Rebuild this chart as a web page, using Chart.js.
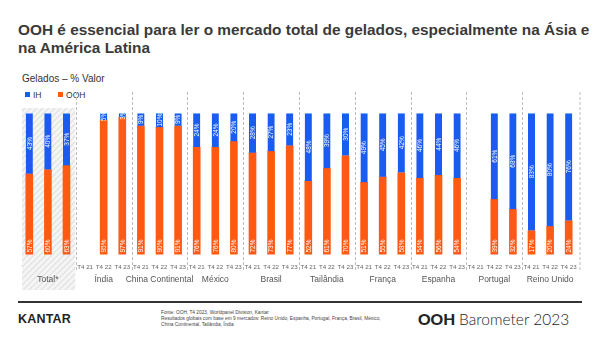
<!DOCTYPE html>
<html>
<head>
<meta charset="utf-8">
<script src="https://cdn.jsdelivr.net/npm/chart.js@4.4.0/dist/chart.umd.min.js"></script>
<style>
  html,body{margin:0;padding:0;background:#fff;}
  body{width:600px;height:338px;position:relative;overflow:hidden;font-family:"Liberation Sans",Arial,sans-serif;}
  #title{position:absolute;left:18px;top:21px;width:575px;font-weight:bold;font-size:15.4px;line-height:18px;color:#3a3a3a;}
  #sub{position:absolute;left:22px;top:73px;font-size:10px;color:#333;}
  #legend{position:absolute;left:25px;top:90px;font-size:8.5px;color:#333;}
  #legend span.b{display:inline-block;width:5px;height:5px;margin-right:3px;vertical-align:1px;}
  #chartwrap{position:absolute;left:0;top:85px;width:600px;height:210px;}
  #rule{position:absolute;left:18px;top:301px;width:564px;height:2px;background:#333;}
  #kantar{position:absolute;left:18px;top:312px;font-size:12.5px;font-weight:bold;color:#222;letter-spacing:0.2px;}
  #note{position:absolute;left:161px;top:310px;font-size:4.8px;line-height:5.8px;color:#444;width:240px;}
  #ooh{position:absolute;left:418px;top:310px;font-family:"Lato","Liberation Sans",sans-serif;font-size:15.5px;color:#222;}
  #ooh b{font-weight:900;}
  #ooh span{font-weight:300;}
</style>
</head>
<body>
<div id="title">OOH é essencial para ler o mercado total de gelados, especialmente na Ásia e na América Latina</div>
<div id="sub">Gelados – % Valor</div>
<div id="legend"><span class="b" style="background:#1a5cf0"></span>IH&nbsp;&nbsp;&nbsp;&nbsp;&nbsp;&nbsp;&nbsp;<span class="b" style="background:#ff5a14"></span>OOH</div>
<div id="chartwrap"><canvas id="c" width="600" height="210"></canvas></div>
<div id="rule"></div>
<div id="kantar">KANTAR</div>
<div id="note">Fonte: OOH, T4 2023, Worldpanel Division, Kantar<br>Resultados globais com base em 9 mercados: Reino Unido, Espanha, Portugal, França, Brasil, México,<br>China Continental, Tailândia, Índia</div>
<div id="ooh"><b>OOH</b> <span>Barometer 2023</span></div>
<script>
const groups = ["Total*","Índia","China Continental","México","Brasil","Tailândia","França","Espanha","Portugal","Reino Unido"];
const periods = ["T4 21","T4 22","T4 23"];
const ihValues  = [43,40,37, null,5,3, 9,10,9, 24,24,20, 28,27,23, 48,39,30, 49,45,42, 46,44,46, null,61,68, 83,80,76];
const oohValues = [57,60,63, null,95,97, 91,90,91, 76,76,80, 72,73,77, 52,61,70, 51,55,58, 54,56,54, null,39,32, 17,20,24];

const labels = [];
groups.forEach(() => periods.forEach(p => labels.push(p)));

const BLUE = "#1a5cf0", ORANGE = "#ff5a14";

function hatch(ctx){
  const p = document.createElement("canvas");
  p.width = 6; p.height = 6;
  const g = p.getContext("2d");
  g.fillStyle = "#f5f5f5"; g.fillRect(0,0,6,6);
  g.strokeStyle = "#e2e2e2"; g.lineWidth = 1.3;
  g.beginPath(); g.moveTo(0,6); g.lineTo(6,0); g.moveTo(-1,1); g.lineTo(1,-1); g.moveTo(5,7); g.lineTo(7,5); g.stroke();
  return ctx.createPattern(p,"repeat");
}

const decor = {
  id:"decor",
  beforeDatasetsDraw(chart){
    const {ctx, scales:{x}} = chart;
    const step = x.getPixelForValue(1) - x.getPixelForValue(0);
    ctx.save();
    const l = x.getPixelForValue(0) - step/2 + 2;
    const r = x.getPixelForValue(2) + step/2 - 0.5;
    ctx.fillStyle = hatch(ctx);
    ctx.fillRect(l, 23, r - l, 182);
    ctx.strokeStyle = "#bdbdbd"; ctx.lineWidth = 1; ctx.setLineDash([3,2]);
    for (let gi = 0; gi < groups.length; gi++){
      const xx = Math.round(x.getPixelForValue(gi*3+2) + step/2) + 0.5 + (gi===groups.length-1 ? 1.5 : 0);
      ctx.beginPath(); ctx.moveTo(xx, 7); ctx.lineTo(xx, 186); ctx.stroke();
    }
    ctx.restore();
  },
  afterDatasetsDraw(chart){
    const {ctx, scales:{x}} = chart;
    ctx.save();
    ctx.fillStyle = "#fff";
    ctx.font = "6.5px 'Liberation Sans', Arial, sans-serif";
    ctx.textBaseline = "middle";
    const mOOH = chart.getDatasetMeta(1), mIH = chart.getDatasetMeta(0);
    for (let i = 0; i < labels.length; i++){
      if (oohValues[i] != null){
        const el = mOOH.data[i];
        ctx.save(); ctx.translate(el.x, el.base - 2); ctx.rotate(-Math.PI/2);
        ctx.textAlign = "left"; ctx.fillText(oohValues[i] + "%", 0, 0.5); ctx.restore();
      }
      if (ihValues[i] != null){
        const el = mIH.data[i];
        const cy = (el.y + el.base)/2;
        ctx.save(); ctx.translate(el.x, cy); ctx.rotate(-Math.PI/2);
        ctx.textAlign = "center"; ctx.fillText(ihValues[i] + "%", 0, 0.5); ctx.restore();
      }
    }
    ctx.fillStyle = "#555";
    ctx.font = "8.5px 'Liberation Sans', Arial, sans-serif";
    ctx.textAlign = "center"; ctx.textBaseline = "middle";
    groups.forEach((g, gi) => {
      ctx.fillText(g, x.getPixelForValue(gi*3+1), 195);
    });
    ctx.restore();
  }
};

new Chart(document.getElementById("c"), {
  type:"bar",
  data:{
    labels,
    datasets:[
      {label:"IH", data: ihValues.map((v,i)=> v==null?null:[oohValues[i], 100]), backgroundColor: BLUE, borderColor:"#9cc4ff", borderWidth:{top:1,left:0,right:0,bottom:0}, borderSkipped:false, barThickness:7, grouped:false},
      {label:"OOH", data: oohValues.map(v=> v==null?null:[0, v]), backgroundColor: ORANGE, borderWidth:0, barThickness:7, grouped:false}
    ]
  },
  plugins:[decor],
  options:{
    responsive:false, animation:false,
    layout:{padding:{left:20, right:22, top:28, bottom:15}},
    plugins:{legend:{display:false}, tooltip:{enabled:false}},
    scales:{
      x:{grid:{display:false, drawTicks:false}, border:{display:false},
         ticks:{autoSkip:false, maxRotation:0, minRotation:0, padding:9, color:"#666", font:{size:6.2, family:"'Liberation Sans', Arial, sans-serif"}}},
      y:{display:false, min:0, max:100}
    }
  }
});
</script>
</body>
</html>
